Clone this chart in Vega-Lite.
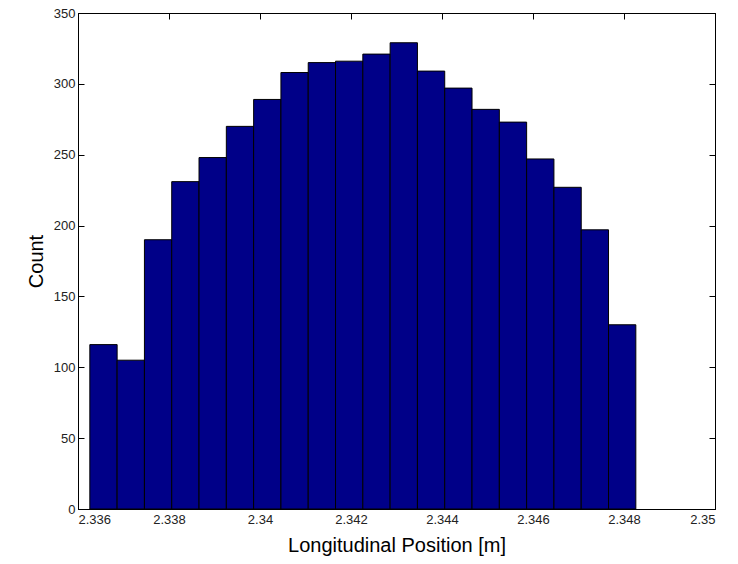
{
  "$schema": "https://vega.github.io/schema/vega-lite/v6.json",
  "width": 637,
  "height": 496,
  "autosize": "none",
  "padding": {"left": 78, "top": 13, "right": 23, "bottom": 55},
  "background": "white",
  "config": {
    "view": {"stroke": "black", "strokeWidth": 1},
    "axis": {
      "grid": false,
      "domainColor": "black",
      "tickColor": "black",
      "labelFont": "Liberation Sans",
      "labelFontSize": 13,
      "labelColor": "#222222",
      "titleFont": "Liberation Sans",
      "titleFontSize": 20,
      "titleFontWeight": "normal",
      "titleColor": "black"
    }
  },
  "data": {
    "values": [
      {"start": 2.33626, "end": 2.33686, "count": 116},
      {"start": 2.33686, "end": 2.33746, "count": 105},
      {"start": 2.33746, "end": 2.33806, "count": 190},
      {"start": 2.33806, "end": 2.33866, "count": 231},
      {"start": 2.33866, "end": 2.33926, "count": 248},
      {"start": 2.33926, "end": 2.33986, "count": 270},
      {"start": 2.33986, "end": 2.34046, "count": 289},
      {"start": 2.34046, "end": 2.34106, "count": 308},
      {"start": 2.34106, "end": 2.34166, "count": 315},
      {"start": 2.34166, "end": 2.34226, "count": 316},
      {"start": 2.34226, "end": 2.34286, "count": 321},
      {"start": 2.34286, "end": 2.34346, "count": 329},
      {"start": 2.34346, "end": 2.34406, "count": 309},
      {"start": 2.34406, "end": 2.34466, "count": 297},
      {"start": 2.34466, "end": 2.34526, "count": 282},
      {"start": 2.34526, "end": 2.34586, "count": 273},
      {"start": 2.34586, "end": 2.34646, "count": 247},
      {"start": 2.34646, "end": 2.34706, "count": 227},
      {"start": 2.34706, "end": 2.34766, "count": 197},
      {"start": 2.34766, "end": 2.34826, "count": 130}
    ]
  },
  "layer": [
    {
      "mark": {"type": "bar", "color": "#000088", "stroke": "black", "strokeWidth": 1},
      "encoding": {
        "x": {
          "field": "start", "type": "quantitative",
          "scale": {"domain": [2.336, 2.35], "nice": false, "zero": false, "padding": 0},
          "axis": {
            "title": "Longitudinal Position [m]",
            "values": [2.336, 2.338, 2.34, 2.342, 2.344, 2.346, 2.348, 2.35],
            "format": ".3~f",
            "tickSize": -6,
            "labelPadding": 10,
            "titlePadding": 9
          }
        },
        "x2": {"field": "end"},
        "y": {
          "field": "count", "type": "quantitative",
          "scale": {"domain": [0, 350], "nice": false, "padding": 0},
          "axis": {
            "title": "Count",
            "values": [0, 50, 100, 150, 200, 250, 300, 350],
            "tickSize": -6,
            "labelPadding": 9,
            "titlePadding": 7
          }
        },
        "y2": {"datum": 0}
      }
    },
    {
      "mark": {"type": "bar", "opacity": 0},
      "encoding": {
        "x": {
          "field": "start", "type": "quantitative",
          "axis": {
            "orient": "top", "title": null, "labels": false,
            "values": [2.336, 2.338, 2.34, 2.342, 2.344, 2.346, 2.348, 2.35],
            "tickSize": -6
          }
        },
        "x2": {"field": "end"},
        "y": {
          "field": "count", "type": "quantitative",
          "axis": {
            "orient": "right", "title": null, "labels": false,
            "values": [0, 50, 100, 150, 200, 250, 300, 350],
            "tickSize": -6
          }
        },
        "y2": {"datum": 0}
      }
    }
  ],
  "resolve": {"axis": {"x": "independent", "y": "independent"}}
}
